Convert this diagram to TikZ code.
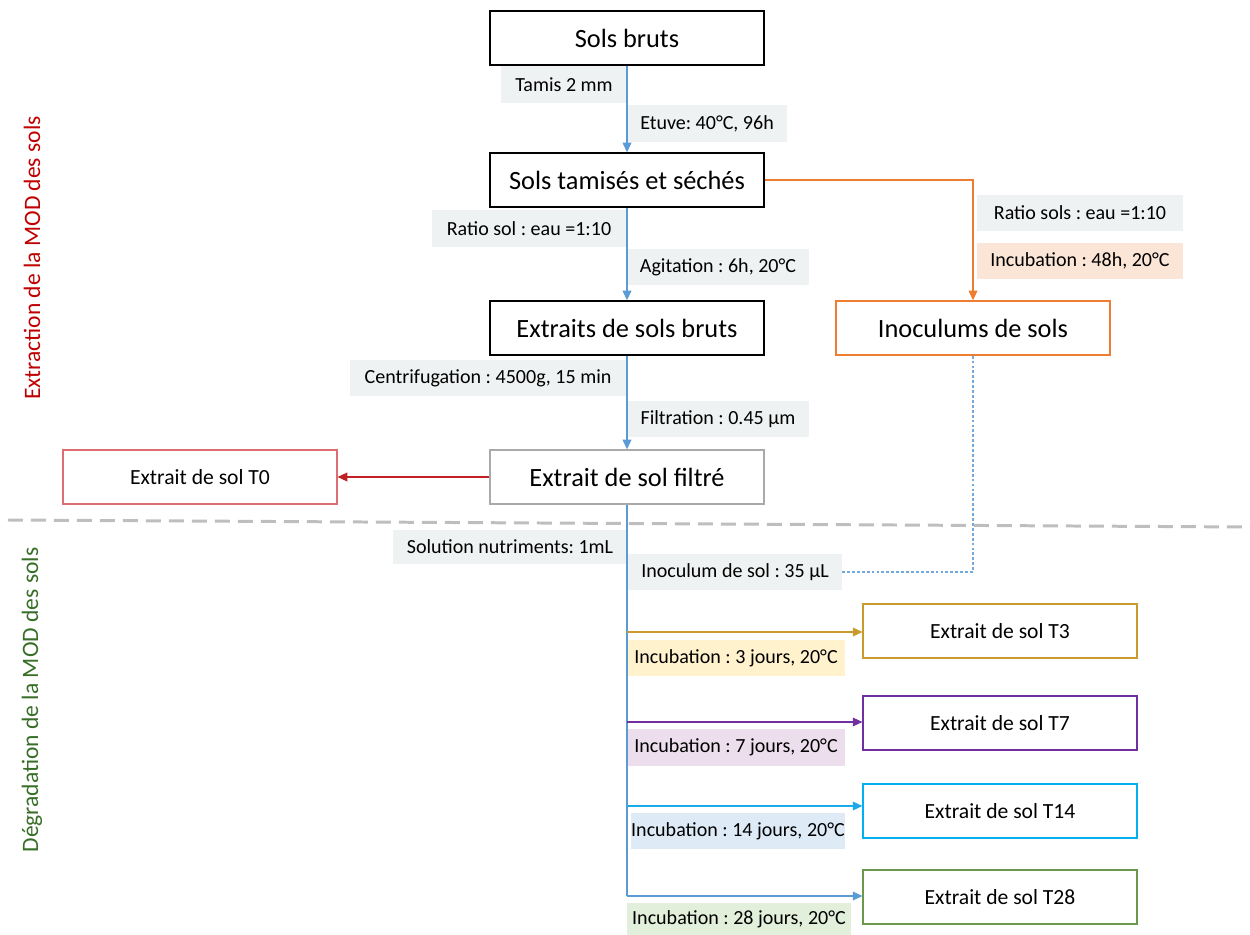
\documentclass[tikz,border=0pt]{standalone}
\usepackage{fontspec}
\setmainfont{Carlito}
\usetikzlibrary{arrows.meta}
\frenchspacing

\definecolor{flowBlue}{RGB}{91,155,213}
\definecolor{flowOrange}{RGB}{237,125,49}
\definecolor{flowRed}{RGB}{192,32,38}
\definecolor{zeroRed}{RGB}{222,110,115}
\definecolor{boxGray}{RGB}{170,170,170}
\definecolor{threeGold}{RGB}{201,154,46}
\definecolor{sevenViolet}{RGB}{112,48,160}
\definecolor{fourteenCyan}{RGB}{0,176,240}
\definecolor{twentyGreen}{RGB}{106,153,78}
\definecolor{labelGray}{RGB}{239,242,242}
\definecolor{labelPeach}{RGB}{251,229,214}
\definecolor{labelYellow}{RGB}{255,242,204}
\definecolor{labelViolet}{RGB}{236,222,236}
\definecolor{labelBlue}{RGB}{222,235,247}
\definecolor{labelGreen}{RGB}{226,239,218}
\definecolor{phaseRed}{RGB}{192,0,0}
\definecolor{phaseGreen}{RGB}{56,110,40}
\definecolor{sepGray}{RGB}{190,190,190}

\tikzstyle{stepBox}=[draw=black,line width=0.8pt,minimum width=5.48cm,minimum height=1.08cm,font=\fontsize{15}{18}\selectfont]
\tikzstyle{sampleBox}=[draw,line width=0.7pt,minimum width=5.48cm,minimum height=1.08cm,font=\fontsize{12.3}{15}\selectfont]
\tikzstyle{stepLabel}=[fill=labelGray,inner xsep=0pt,minimum height=0.74cm,font=\fontsize{11.4}{14}\selectfont]
\tikzstyle{phaseText}=[rotate=90,font=\fontsize{13.4}{16}\selectfont]

\begin{document}
\begin{tikzpicture}[x=0.02cm,y=-0.02cm,>={Triangle[length=5.5pt,width=5pt]}]
        \useasboundingbox (0,0) rectangle (1250,935);

        % extraction
        \node[stepBox] (brut) at (627,38)  {Sols bruts};
        \node[stepBox] (tami) at (627,180) {Sols tamisés et séchés};
        \node[stepBox] (extr) at (627,328) {Extraits de sols bruts};
        \node[stepBox,draw=boxGray] (filt) at (627,477) {Extrait de sol filtré};
        \node[stepBox,draw=flowOrange] (inoc) at (973,328) {Inoculums de sols};
        \node[sampleBox,draw=zeroRed] (tzero) at (200,477) {Extrait de sol T0};

        % degradation
        \node[sampleBox,draw=threeGold]    (tthree)    at (1000,631) {Extrait de sol T3};
        \node[sampleBox,draw=sevenViolet]  (tseven)    at (1000,723) {Extrait de sol T7};
        \node[sampleBox,draw=fourteenCyan] (tfourteen) at (1000,811) {Extrait de sol T14};
        \node[sampleBox,draw=twentyGreen]  (ttwenty)   at (1000,897) {Extrait de sol T28};

        \coordinate (jin) at (627,572);
        \coordinate (jthree) at (627,632);
        \coordinate (jseven) at (627,722);
        \coordinate (jfourteen) at (627,806);
        \coordinate (jtwenty) at (627,896);

        \draw [flowBlue!85,line width=0.6pt,dash pattern=on 1.6pt off 1.2pt] (inoc) |- (jin);

        % labels
        \node[stepLabel,minimum width=2.52cm] (lTamis) at (564,85)  {Tamis 2 mm};
        \node[stepLabel,minimum width=3.2cm]  (lEtuve) at (707,124) {Etuve: 40°C, 96h};
        \node[stepLabel,minimum width=3.9cm]  (lRatio) at (529,229) {Ratio sol : eau =1:10};
        \node[stepLabel,minimum width=3.66cm] (lAgit)  at (718,267) {Agitation : 6h, 20°C};
        \node[stepLabel,minimum width=4.14cm,minimum height=0.72cm] (lRatioIn) at (1080,213) {Ratio sols : eau =1:10};
        \node[stepLabel,fill=labelPeach,minimum width=4.14cm,minimum height=0.72cm] (lIncIn) at (1080,261) {Incubation : 48h, 20°C};
        \node[stepLabel,minimum width=5.54cm] (lCentri) at (488,378) {Centrifugation : 4500g, 15 min};
        \node[stepLabel,minimum width=3.66cm] (lFiltr)  at (718,419) {Filtration : 0.45 µm};
        \node[stepLabel,minimum width=4.68cm,minimum height=0.7cm] (lNutri) at (510,547) {Solution nutriments: 1mL};
        \node[stepLabel,minimum width=4.3cm,minimum height=0.72cm]  (lInoc)  at (735,572) {Inoculum de sol : 35 µL};
        \node[stepLabel,fill=labelYellow,minimum width=4.36cm,minimum height=0.72cm] (lThree) at (736,658) {Incubation : 3 jours, 20°C};
        \node[stepLabel,fill=labelViolet,minimum width=4.36cm,minimum height=0.74cm] (lSeven) at (736,747) {Incubation : 7 jours, 20°C};
        \node[stepLabel,fill=labelBlue,minimum width=4.18cm,minimum height=0.72cm] (lFourteen) at (738,831) {Incubation : 14 jours, 20°C};
        \node[stepLabel,fill=labelGreen,minimum width=4.5cm,minimum height=0.66cm] (lTwenty) at (739,919) {Incubation : 28 jours, 20°C};

        \draw [->,flowBlue,line width=0.6pt] (brut) to (tami);
        \draw [->,flowBlue,line width=0.6pt] (tami) to (extr);
        \draw [->,flowBlue,line width=0.6pt] (extr) to (filt);
        \draw [->,flowRed,line width=0.6pt] (filt) to (tzero);
        \draw [->,flowOrange,line width=0.6pt] (tami) -| (inoc);

        \draw [flowBlue,line width=0.6pt] (filt) |- (jtwenty);
        \draw [->,threeGold,line width=0.6pt] (jthree) -- (jthree -| tthree.west);
        \draw [->,sevenViolet,line width=0.6pt] (jseven) -- (jseven -| tseven.west);
        \draw [->,fourteenCyan!70!flowBlue,line width=0.6pt] (jfourteen) -- (jfourteen -| tfourteen.west);
        \draw [->,flowBlue,line width=0.6pt] (jtwenty) -- (jtwenty -| ttwenty.west);

        % phases
        \coordinate (sepL) at (8,520);
        \coordinate (sepR) at (1250,527);
        \draw [sepGray,line width=1.7pt,dash pattern=on 0.3cm off 0.16cm] (sepL) -- (sepR);
        \node[phaseText,text=phaseRed]   (pExtr) at (32,258) {Extraction de la MOD des sols};
        \node[phaseText,text=phaseGreen] (pDegr) at (32,700) {Dégradation de la MOD des sols};
\end{tikzpicture}
\end{document}
